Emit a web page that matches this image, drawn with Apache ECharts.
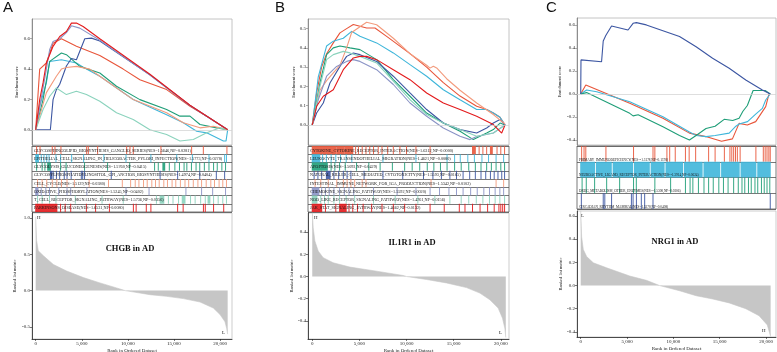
<!DOCTYPE html>
<html>
<head>
<meta charset="utf-8">
<script src="https://cdn.jsdelivr.net/npm/echarts@6/dist/echarts.min.js"></script>
<style>
html,body{margin:0;padding:0;background:#fff}
#chart{width:777px;height:352px}
</style>
</head>
<body>
<div id="chart"></div>
<script>
// ---- shared ----
const rankTicks = [0, 5000, 10000, 15000, 20000];

// ---- panel A : CHGB ----
const namesA = [
  'GLYCOSPHINGOLIPID_BIOSYNTHESIS_GANGLIO_SERIES(NES=1.5646,NP=0.0281)',
  'EPITHELIAL_CELL_SIGNALING_IN_HELICOBACTER_PYLORI_INFECTION(NES=1.5773,NP=0.0278)',
  'GLYCOLYSIS_GLUCONEOGENESIS(NES=1.5760,NP=0.0415)',
  'GLYCOSYLPHOSPHATIDYLINOSITOL_GPI_ANCHOR_BIOSYNTHESIS(NES=1.4974,NP=0.0404)',
  'CELL_CYCLE(NES=1.5129,NP=0.0380)',
  'OXIDATIVE_PHOSPHORYLATION(NES=1.5245,NP=0.0402)',
  'T_CELL_RECEPTOR_SIGNALING_PATHWAY(NES=1.5736,NP=0.0356)',
  'PARKINSONS_DISEASE(NES=1.6531,NP=0.0080)'
];
const curvesA = [
  [[0,0],[435,0.40],[1160,0.44],[1884,0.57],[2790,0.60],[4420,0.55],[6957,0.49],[9494,0.40],[11306,0.33],[14205,0.265],[16741,0.155],[18552,0.09],[20830,0]],
  [[0,0],[435,0.156],[1160,0.309],[1522,0.45],[2790,0.462],[4420,0.44],[5507,0.40],[6957,0.353],[10581,0.2],[14205,0.10],[16016,0.046],[17466,-0.009],[18552,-0.02],[20364,-0.074],[20650,-0.074],[20830,0]],
  [[0,0],[797,0.199],[1522,0.451],[2790,0.506],[3333,0.495],[4783,0.418],[6957,0.374],[8769,0.287],[11306,0.199],[14205,0.134],[15654,0.09],[16741,0.09],[17828,0.035],[19639,0.013],[20830,0]],
  [[0,0],[1594,0],[1884,0.199],[2246,0.265],[2609,0.30],[3333,0.42],[3877,0.47],[4420,0.462],[5326,0.60],[6051,0.604],[6957,0.585],[12393,0.362],[16741,0.16],[20830,0]],
  [[0,0],[1160,0.245],[2246,0.353],[2790,0.40],[3333,0.41],[4420,0.418],[5870,0.40],[6957,0.353],[10581,0.199],[14205,0.112],[16016,0.046],[17828,0.013],[19277,0.024],[20001,0.013],[20830,0]],
  [[0,0],[435,0.15],[1160,0.40],[1522,0.53],[1884,0.582],[2609,0.60],[3333,0.64],[3877,0.685],[4783,0.67],[6957,0.59],[12393,0.36],[16741,0.16],[20830,0]],
  [[0,0],[797,0.134],[1522,0.221],[2246,0.276],[3333,0.232],[4420,0.254],[5507,0.232],[6957,0.188],[8769,0.112],[10581,0.068],[12393,0],[14205,-0.031],[15654,-0.074],[17103,-0.064],[18552,-0.02],[20001,0.013],[20830,0]],
  [[0,0],[435,0.199],[797,0.309],[1160,0.44],[1884,0.55],[2609,0.615],[3333,0.648],[3877,0.703],[4420,0.703],[5145,0.681],[6957,0.60],[12393,0.366],[16741,0.162],[20830,0]]
];
const hitsA = [
  [100,470,1800,2090,2740,5530,5710,6720,9870,10230,10590,13590,16920,18190,20750],
  [[0,300],600,900,1200,1450,2200,2700,3900,5200,7400,9800,12500,15300,17000,18800,20500,20700],
  [100,700,1000,[1300,1600],2700,3300,5300,7800,10200,12900,13300,[13800,14000],14500,15100,15600,16100,16400,16900,17400,17800,18300,18800,19300,19700,20200,20600],
  [[1600,1750],1900,2250,2600,3100,3400,3850,4950,5100,5300,8200,13500,15400,17800,19600,20500],
  [200,700,1200,1800,2300,2800,3400,4200,5800,7900,9400,10300,10800,11200,11700,12100,12600,13000,13400,13900,14300,14800,15200,15700,16200,16600,17100,17600,18000,18500,19000,19400,19900,20300,20700],
  [[0,250],600,1100,1500,2500,3400,3800,5550,9800,12300,16300,18000,19200,20600],
  [200,700,1500,2200,4300,7200,9500,13100,[13500,13900],14400,14900,15500,[15900,16200],16800,17300,17900,18400,[18700,18900],19300,19800,20300,20700],
  [[0,2300],2700,3200,3800,5500,6500,8000,10600,10900,12000,12500,15400,16000,18200,18400,19300,20400]
];
const metricA = [[0,1.02],[100,0.69],[280,0.55],[840,0.48],[1920,0.36],[3360,0.27],[5170,0.18],[6980,0.106],[8780,0.037],[9700,0],[12400,-0.056],[14210,-0.079],[16020,-0.11],[17830,-0.157],[19270,-0.24],[20000,-0.33],[20540,-0.43],[20720,-0.52],[20830,-0.6]];
const esTicksA = [0, 0.2, 0.4, 0.6];
const metTicksA = [1.0, 0.5, 0, -0.5];

// ---- panel B : IL1R1 ----
const namesB = [
  'CYTOKINE_CYTOKINE_RECEPTOR_INTERACTION(NES=1.6312,NP=0.0000)',
  'LEUKOCYTE_TRANSENDOTHELIAL_MIGRATION(NES=1.4621,NP=0.0080)',
  'APOPTOSIS(NES=1.5093,NP=0.0429)',
  'NATURAL_KILLER_CELL_MEDIATED_CYTOTOXICITY(NES=1.5593,NP=0.0165)',
  'INTESTINAL_IMMUNE_NETWORK_FOR_IGA_PRODUCTION(NES=1.5342,NP=0.0102)',
  'CHEMOKINE_SIGNALING_PATHWAY(NES=1.5592,NP=0.0020)',
  'NOD_LIKE_RECEPTOR_SIGNALING_PATHWAY(NES=1.4761,NP=0.0156)',
  'JAK_STAT_SIGNALING_PATHWAY(NES=1.4662,NP=0.0132)'
];
const curvesB = [
  [[0,0],[463,0.166],[994,0.30],[1525,0.37],[2232,0.426],[2940,0.478],[3647,0.50],[4355,0.521],[5062,0.512],[5769,0.503],[6654,0.503],[7892,0.46],[10368,0.37],[12136,0.30],[13904,0.22],[15673,0.15],[17441,0.097],[18502,0.08],[19209,0.062],[19917,0.04],[20448,0]],
  [[0,0],[640,0.25],[1525,0.41],[2232,0.435],[3293,0.45],[4178,0.486],[5062,0.46],[6831,0.426],[8599,0.374],[10368,0.313],[12136,0.253],[13904,0.183],[15673,0.131],[17441,0.08],[18502,0.08],[19209,0.062],[19917,0.04],[20448,0]],
  [[0,0],[817,0.218],[1525,0.365],[2232,0.40],[2940,0.41],[4001,0.40],[5062,0.391],[6831,0.339],[8599,0.235],[10368,0.149],[12136,0.062],[13904,0.01],[15673,-0.033],[17087,-0.076],[18502,-0.042],[19209,-0.024],[19917,0.01],[20448,0]],
  [[0,0],[463,0.062],[1171,0.114],[1878,0.218],[2940,0.304],[3647,0.356],[4355,0.374],[5062,0.365],[6831,0.33],[8599,0.253],[10368,0.166],[12136,0.08],[13904,0.01],[15673,-0.024],[17441,-0.042],[18502,-0.016],[19209,0.01],[19917,0.028],[20448,0]],
  [[0,0],[817,0.18],[1525,0.23],[2232,0.27],[2940,0.31],[3647,0.40],[4178,0.48],[5062,0.51],[5769,0.533],[6831,0.52],[8599,0.45],[10368,0.37],[12136,0.31],[12490,0.295],[12844,0.305],[13197,0.296],[14258,0.24],[15673,0.18],[17441,0.114],[19209,0.054],[20448,0.005]],
  [[0,0],[640,0.131],[1525,0.253],[2586,0.304],[3647,0.33],[4355,0.339],[5062,0.33],[6831,0.287],[8599,0.21],[10368,0.114],[12136,0.045],[13904,-0.016],[15673,-0.059],[16734,-0.076],[17441,-0.06],[19209,-0.042],[20448,0]],
  [[0,0],[817,0.20],[1525,0.339],[2232,0.365],[3293,0.382],[4001,0.374],[5062,0.356],[6831,0.322],[8599,0.227],[10368,0.131],[12136,0.054],[13904,0.01],[15673,-0.024],[17441,-0.059],[19209,-0.042],[20448,0]],
  [[0,0],[463,0.097],[1171,0.149],[2232,0.183],[3293,0.287],[4355,0.348],[5062,0.356],[5769,0.356],[6831,0.339],[8599,0.287],[10368,0.235],[12136,0.166],[13904,0.114],[15673,0.08],[17441,0.045],[19209,0.002],[20094,-0.042],[20448,0]]
];
const hitsB = [
  [[0,1200],[1300,2500],[2600,3400],[3500,4300],4600,4900,5300,5700,6100,6500,7000,7400,8000,8600,9300,10000,11000,12500,[17000,17300],17700,18100,18500,[18900,19100],19600,20000,20400],
  [[0,800],1100,1500,2000,2500,3000,3600,4200,7500,11000,14300,15100,15700,16500,17200,18000,18700,19500,20300],
  [[0,1600],2000,2400,2900,3500,4700,6000,7200,8500,9800,10600,11400,12200,12900,13600,14300,15100,15800,16600,17300,17900,18500,19000,19500,20000,20400],
  [200,600,1000,[1500,1900],2300,2800,3300,3700,4100,5500,7500,9600,11800,12800,13700,14600,15300,16000,16700,17300,17900,18400,18900,19300,19700,20100,20400],
  [300,900,1700,2600,3300,3700,4100,4500,5300,5700,12600,19500,20300],
  [[0,700],1000,1400,1800,2300,2900,3400,3900,4400,6500,9000,11000,12500,13500,14500,15300,16000,16800,17500,18200,18800,19400,19900,20300],
  [[0,500],900,1300,1700,2300,2900,3600,4500,6500,8800,11200,13000,14600,15800,16600,17400,18100,18800,19400,19900,20400],
  [[0,1000],1400,2500,[2900,3600],3900,4300,4800,5400,6300,7400,8600,9800,11000,12500,14000,15600,16200,17000,17800,18600,19300,19800,20000,20200,20400]
];
const metricB = [[0,0.6],[100,0.44],[280,0.32],[630,0.23],[1160,0.17],[2220,0.124],[3990,0.085],[6820,0.048],[9650,0.009],[10000,0],[12120,-0.027],[14240,-0.058],[16360,-0.10],[17780,-0.15],[18840,-0.21],[19720,-0.285],[20180,-0.376],[20430,-0.467],[20530,-0.55]];
const esTicksB = [0, 0.1, 0.2, 0.3, 0.4, 0.5];
const metTicksB = [0.4, 0.2, 0, -0.2, -0.4];

// ---- panel C : NRG1 ----
const namesC = [
  'PRIMARY_IMMUNODEFICIENCY(NES=-1.3178,NP=0.1378)',
  'NEUROACTIVE_LIGAND_RECEPTOR_INTERACTION(NES=-1.3914,NP=0.0624)',
  'DRUG_METABOLISM_OTHER_ENZYMES(NES=-1.5308,NP=0.0306)',
  'CIRCADIAN_RHYTHM_MAMMAL(NES=1.5378,NP=0.0408)'
];
const curvesC = [
  [[0,0],[550,0.078],[5290,-0.08],[8870,-0.21],[11730,-0.34],[13500,-0.37],[15200,-0.41],[16370,-0.39],[17090,-0.255],[17980,-0.27],[18880,-0.24],[19420,-0.175],[19960,-0.11],[20310,0],[20450,0]],
  [[0,0],[640,0.035],[1720,0.02],[5290,-0.067],[8870,-0.197],[11730,-0.33],[12450,-0.36],[13520,-0.37],[14500,-0.36],[16020,-0.34],[16740,-0.28],[17090,-0.26],[18000,-0.24],[18880,-0.175],[19600,-0.125],[19960,-0.052],[20450,0]],
  [[0,0],[640,0.012],[5290,-0.168],[5650,-0.19],[6200,-0.18],[8870,-0.284],[10660,-0.36],[11730,-0.40],[12450,-0.36],[13520,-0.30],[14500,-0.28],[15480,-0.22],[16400,-0.23],[17090,-0.21],[17500,-0.15],[17980,-0.10],[18600,0.03],[19900,0.03],[20450,0]],
  [[0,0],[30,0.296],[2250,0.28],[2430,0.46],[2720,0.51],[3330,0.59],[5110,0.556],[5650,0.614],[6010,0.62],[7080,0.60],[10660,0.50],[12450,0.41],[14230,0.31],[16020,0.223],[17810,0.122],[19600,0.035],[20450,0]]
];
const hitsC = [
  [100,360,550,2720,5700,7800,8000,9300,9600,10200,11300,11700,12400,13800,14500,15500,16100,16300,16500,16700,16900,17200,18900,19700,19900,20100,20300,20450],
  [[0,1500],[1700,3300],[3500,5600],[5800,7400],[7600,9000],[9200,11000],[11200,13100],[13300,15000],[15200,17100],[17300,18900],[19100,20450]],
  [150,600,1500,2800,4200,5700,6000,8000,9700,11300,11800,12100,12700,13300,13800,14300,14900,15400,15900,16500,17000,17400,17700,18100,18400,18800,19100,19500,19800,20100,20400],
  [70,2430,2600,3330,5470,5650,6010,6540,6900,7800,20450]
];
const metricC = [[0,0.65],[100,0.42],[280,0.31],[640,0.25],[1360,0.196],[2790,0.153],[5290,0.082],[7080,0.045],[8510,0],[10660,-0.045],[12450,-0.088],[14240,-0.116],[16020,-0.15],[17810,-0.2],[19240,-0.26],[20130,-0.34],[20490,-0.44]];
const esTicksC = [-0.4, -0.2, 0, 0.2, 0.4, 0.6];
const metTicksC = [0.6, 0.4, 0.2, 0, -0.2, -0.4];

// colours
const cRedOrange = '#e8553a', cCyan = '#3fb6da', cTeal = '#1f9e78', cNavy = '#3c56a2',
      cSalmon = '#f39b7d', cLavender = '#8b94c6', cMint = '#8bd3bd', cRed = '#e31a1c';
const colorsA = [cRedOrange, cCyan, cTeal, cNavy, cSalmon, cLavender, cMint, cRed];
const colorsB = [cRedOrange, cCyan, cTeal, cNavy, cSalmon, cLavender, cMint, cRed];
const colorsC = [cRedOrange, cCyan, cTeal, cNavy];

const SERIF = 'Liberation Serif';

const panels = [
  { names: namesA, curves: curvesA, hits: hitsA, metric: metricA, colors: colorsA,
    left: 32, width: 200, xMin: -400, xMax: 21300,
    es: { top: 19, height: 126, min: -0.1, max: 0.73, ticks: esTicksA, gap: 13 },
    strip: { top: 146, height: 66, pos: 'middle', font: 4.2 },
    met: { top: 213, height: 126, min: -0.667, max: 1.07, ticks: metTicksA, gap: 15 } },
  { names: namesB, curves: curvesB, hits: hitsB, metric: metricB, colors: colorsB,
    left: 308, width: 201, xMin: -450, xMax: 20870,
    es: { top: 19, height: 126, min: -0.104, max: 0.55, ticks: esTicksB, gap: 12 },
    strip: { top: 146, height: 66, pos: 'middle', font: 4.2 },
    met: { top: 213, height: 126, min: -0.564, max: 0.573, ticks: metTicksB, gap: 14 } },
  { names: namesC, curves: curvesC, hits: hitsC, metric: metricC, colors: colorsC,
    left: 577, width: 199, xMin: -400, xMax: 21070,
    es: { top: 18, height: 127, min: -0.443, max: 0.66, ticks: esTicksC, gap: 15 },
    strip: { top: 146, height: 63, pos: 'bottom', font: 3.4 },
    met: { top: 211, height: 126, min: -0.444, max: 0.643, ticks: metTicksC, gap: 14 } }
];

function hitItems(hits) {
  const out = [];
  hits.forEach((row, r) => row.forEach(h => {
    if (Array.isArray(h)) out.push([h[0], h[1], r]);
    else out.push([h, h, r]);
  }));
  return out;
}

function hitRenderer(colors) {
  return function (params, api) {
    const row = api.value(2);
    const a = api.coord([api.value(0), row]);
    const b = api.coord([api.value(1), row]);
    const h = api.size([0, 1])[1];
    return {
      type: 'rect',
      shape: { x: a[0] - 0.5, y: a[1] - h / 2, width: Math.max(b[0] - a[0], 0) + 1, height: h },
      style: { fill: colors[row], opacity: 0.9 }
    };
  };
}

function labelRenderer(names, pos, size) {
  return function (params, api) {
    const row = api.value(1);
    const c = api.coord([0, row]);
    const h = api.size([0, 1])[1];
    return {
      type: 'text',
      x: params.coordSys.x + 2,
      y: pos === 'bottom' ? c[1] + h / 2 - 0.5 : c[1] + 0.4,
      style: {
        text: names[row], fill: '#1a1a1a', fontSize: size, fontFamily: SERIF,
        align: 'left', verticalAlign: pos === 'bottom' ? 'bottom' : 'middle'
      }
    };
  };
}

const grid = [], xAxis = [], yAxis = [], series = [];
const labelFont = { fontSize: 5, fontFamily: SERIF, color: '#222' };

panels.forEach((p, i) => {
  const g0 = i * 3;
  // enrichment score box
  grid.push({ left: p.left, top: p.es.top, width: p.width, height: p.es.height,
    show: true, borderColor: '#b5b5b5', borderWidth: 0.8, containLabel: false, outerBoundsMode: 'none' });
  xAxis.push({ gridIndex: g0, type: 'value', min: p.xMin, max: p.xMax, show: false });
  yAxis.push({ gridIndex: g0, type: 'value', min: p.es.min, max: p.es.max,
    axisLine: { show: true, onZero: false, lineStyle: { color: '#777', width: 0.8 } },
    axisTick: { show: true, length: 2, customValues: p.es.ticks, lineStyle: { color: '#777', width: 0.6 } },
    axisLabel: Object.assign({ customValues: p.es.ticks, margin: 2, formatter: v => v.toFixed(1) }, labelFont),
    splitLine: { show: false },
    name: 'Enrichment score', nameLocation: 'middle', nameGap: p.es.gap,
    nameTextStyle: { fontSize: 4.5, fontFamily: SERIF, color: '#222' } });

  // hit strips
  grid.push({ left: p.left, top: p.strip.top, width: p.width, height: p.strip.height,
    show: true, borderColor: '#555', borderWidth: 0.8, containLabel: false, outerBoundsMode: 'none' });
  xAxis.push({ gridIndex: g0 + 1, type: 'value', min: p.xMin, max: p.xMax, show: false });
  yAxis.push({ gridIndex: g0 + 1, type: 'category', inverse: true,
    data: p.names.map((n, k) => k),
    axisLine: { show: false }, axisTick: { show: false },
    axisLabel: { show: false, interval: 0 },
    splitLine: { show: true, interval: 0, lineStyle: { color: '#555', width: 0.8 } } });

  // ranked list metric
  grid.push({ left: p.left, top: p.met.top, width: p.width, height: p.met.height,
    show: true, borderColor: '#c0c0c0', borderWidth: 0.8, containLabel: false, outerBoundsMode: 'none' });
  xAxis.push({ gridIndex: g0 + 2, type: 'value', min: p.xMin, max: p.xMax,
    axisLine: { show: true, onZero: false, lineStyle: { color: '#222', width: 0.8 } },
    axisTick: { show: true, length: 2, customValues: rankTicks, lineStyle: { color: '#222', width: 0.6 } },
    axisLabel: Object.assign({ customValues: rankTicks, margin: 2,
      formatter: v => v.toLocaleString('en-US') }, labelFont),
    splitLine: { show: false },
    name: 'Rank in Ordered Dataset', nameLocation: 'middle', nameGap: 9,
    nameTextStyle: { fontSize: 5, fontFamily: SERIF, color: '#222' } });
  yAxis.push({ gridIndex: g0 + 2, type: 'value', min: p.met.min, max: p.met.max,
    axisLine: { show: true, onZero: false, lineStyle: { color: '#222', width: 0.8 } },
    axisTick: { show: true, length: 2, customValues: p.met.ticks, lineStyle: { color: '#222', width: 0.6 } },
    axisLabel: Object.assign({ customValues: p.met.ticks, margin: 2, formatter: v => v.toFixed(1) }, labelFont),
    splitLine: { show: false },
    name: 'Ranked list metric', nameLocation: 'middle', nameGap: p.met.gap,
    nameTextStyle: { fontSize: 4.5, fontFamily: SERIF, color: '#222' } });

  // series
  p.curves.forEach((c, k) => {
    series.push({ type: 'line', xAxisIndex: g0, yAxisIndex: g0, data: c,
      symbol: 'none', z: 3 + (k === p.curves.length - 1 ? 1 : 0),
      lineStyle: { color: p.colors[k], width: 1.1 },
      markLine: k === 0 ? { silent: true, symbol: 'none', label: { show: false },
        lineStyle: { color: '#d0d0d0', width: 0.7, type: 'solid' }, data: [{ yAxis: 0 }] } : undefined });
  });
  series.push({ type: 'custom', xAxisIndex: g0 + 1, yAxisIndex: g0 + 1,
    data: hitItems(p.hits), encode: { x: [0, 1], y: 2 },
    renderItem: hitRenderer(p.colors) });
  series.push({ type: 'custom', xAxisIndex: g0 + 1, yAxisIndex: g0 + 1, z: 5,
    data: p.names.map((n, k) => [0, k]), encode: { x: 0, y: 1 },
    renderItem: labelRenderer(p.names, p.strip.pos, p.strip.font) });
  series.push({ type: 'line', xAxisIndex: g0 + 2, yAxisIndex: g0 + 2, data: p.metric,
    symbol: 'none', lineStyle: { color: '#c6c6c6', width: 0.6 },
    areaStyle: { color: '#c6c6c6', opacity: 1 } });
});

const txt = (x, y, text, style) => ({ type: 'text', x, y,
  style: Object.assign({ text, fill: '#111' }, style) });
const letter = { fontSize: 15, fontFamily: 'Liberation Sans' };
const title = { fontSize: 8.5, fontWeight: 'bold', fontFamily: SERIF, align: 'center', verticalAlign: 'middle' };
const hl = { fontSize: 5, fontFamily: SERIF };

const chart = echarts.init(document.getElementById('chart'), null, { renderer: 'canvas' });
chart.setOption({
  animation: false,
  backgroundColor: '#fff',
  grid, xAxis, yAxis, series,
  graphic: [
    txt(3, 0, 'A', letter), txt(275, 0, 'B', letter), txt(546, 0, 'C', letter),
    txt(130, 249, 'CHGB in AD', title), txt(412, 243, 'IL1R1 in AD', title), txt(675, 242, 'NRG1 in AD', title),
    txt(37, 215, 'H', hl), txt(222, 330, 'L', hl),
    txt(314, 215, 'H', hl), txt(499, 330, 'L', hl),
    txt(581, 213, 'L', hl), txt(762, 328, 'H', hl)
  ]
});
</script>
</body>
</html>
